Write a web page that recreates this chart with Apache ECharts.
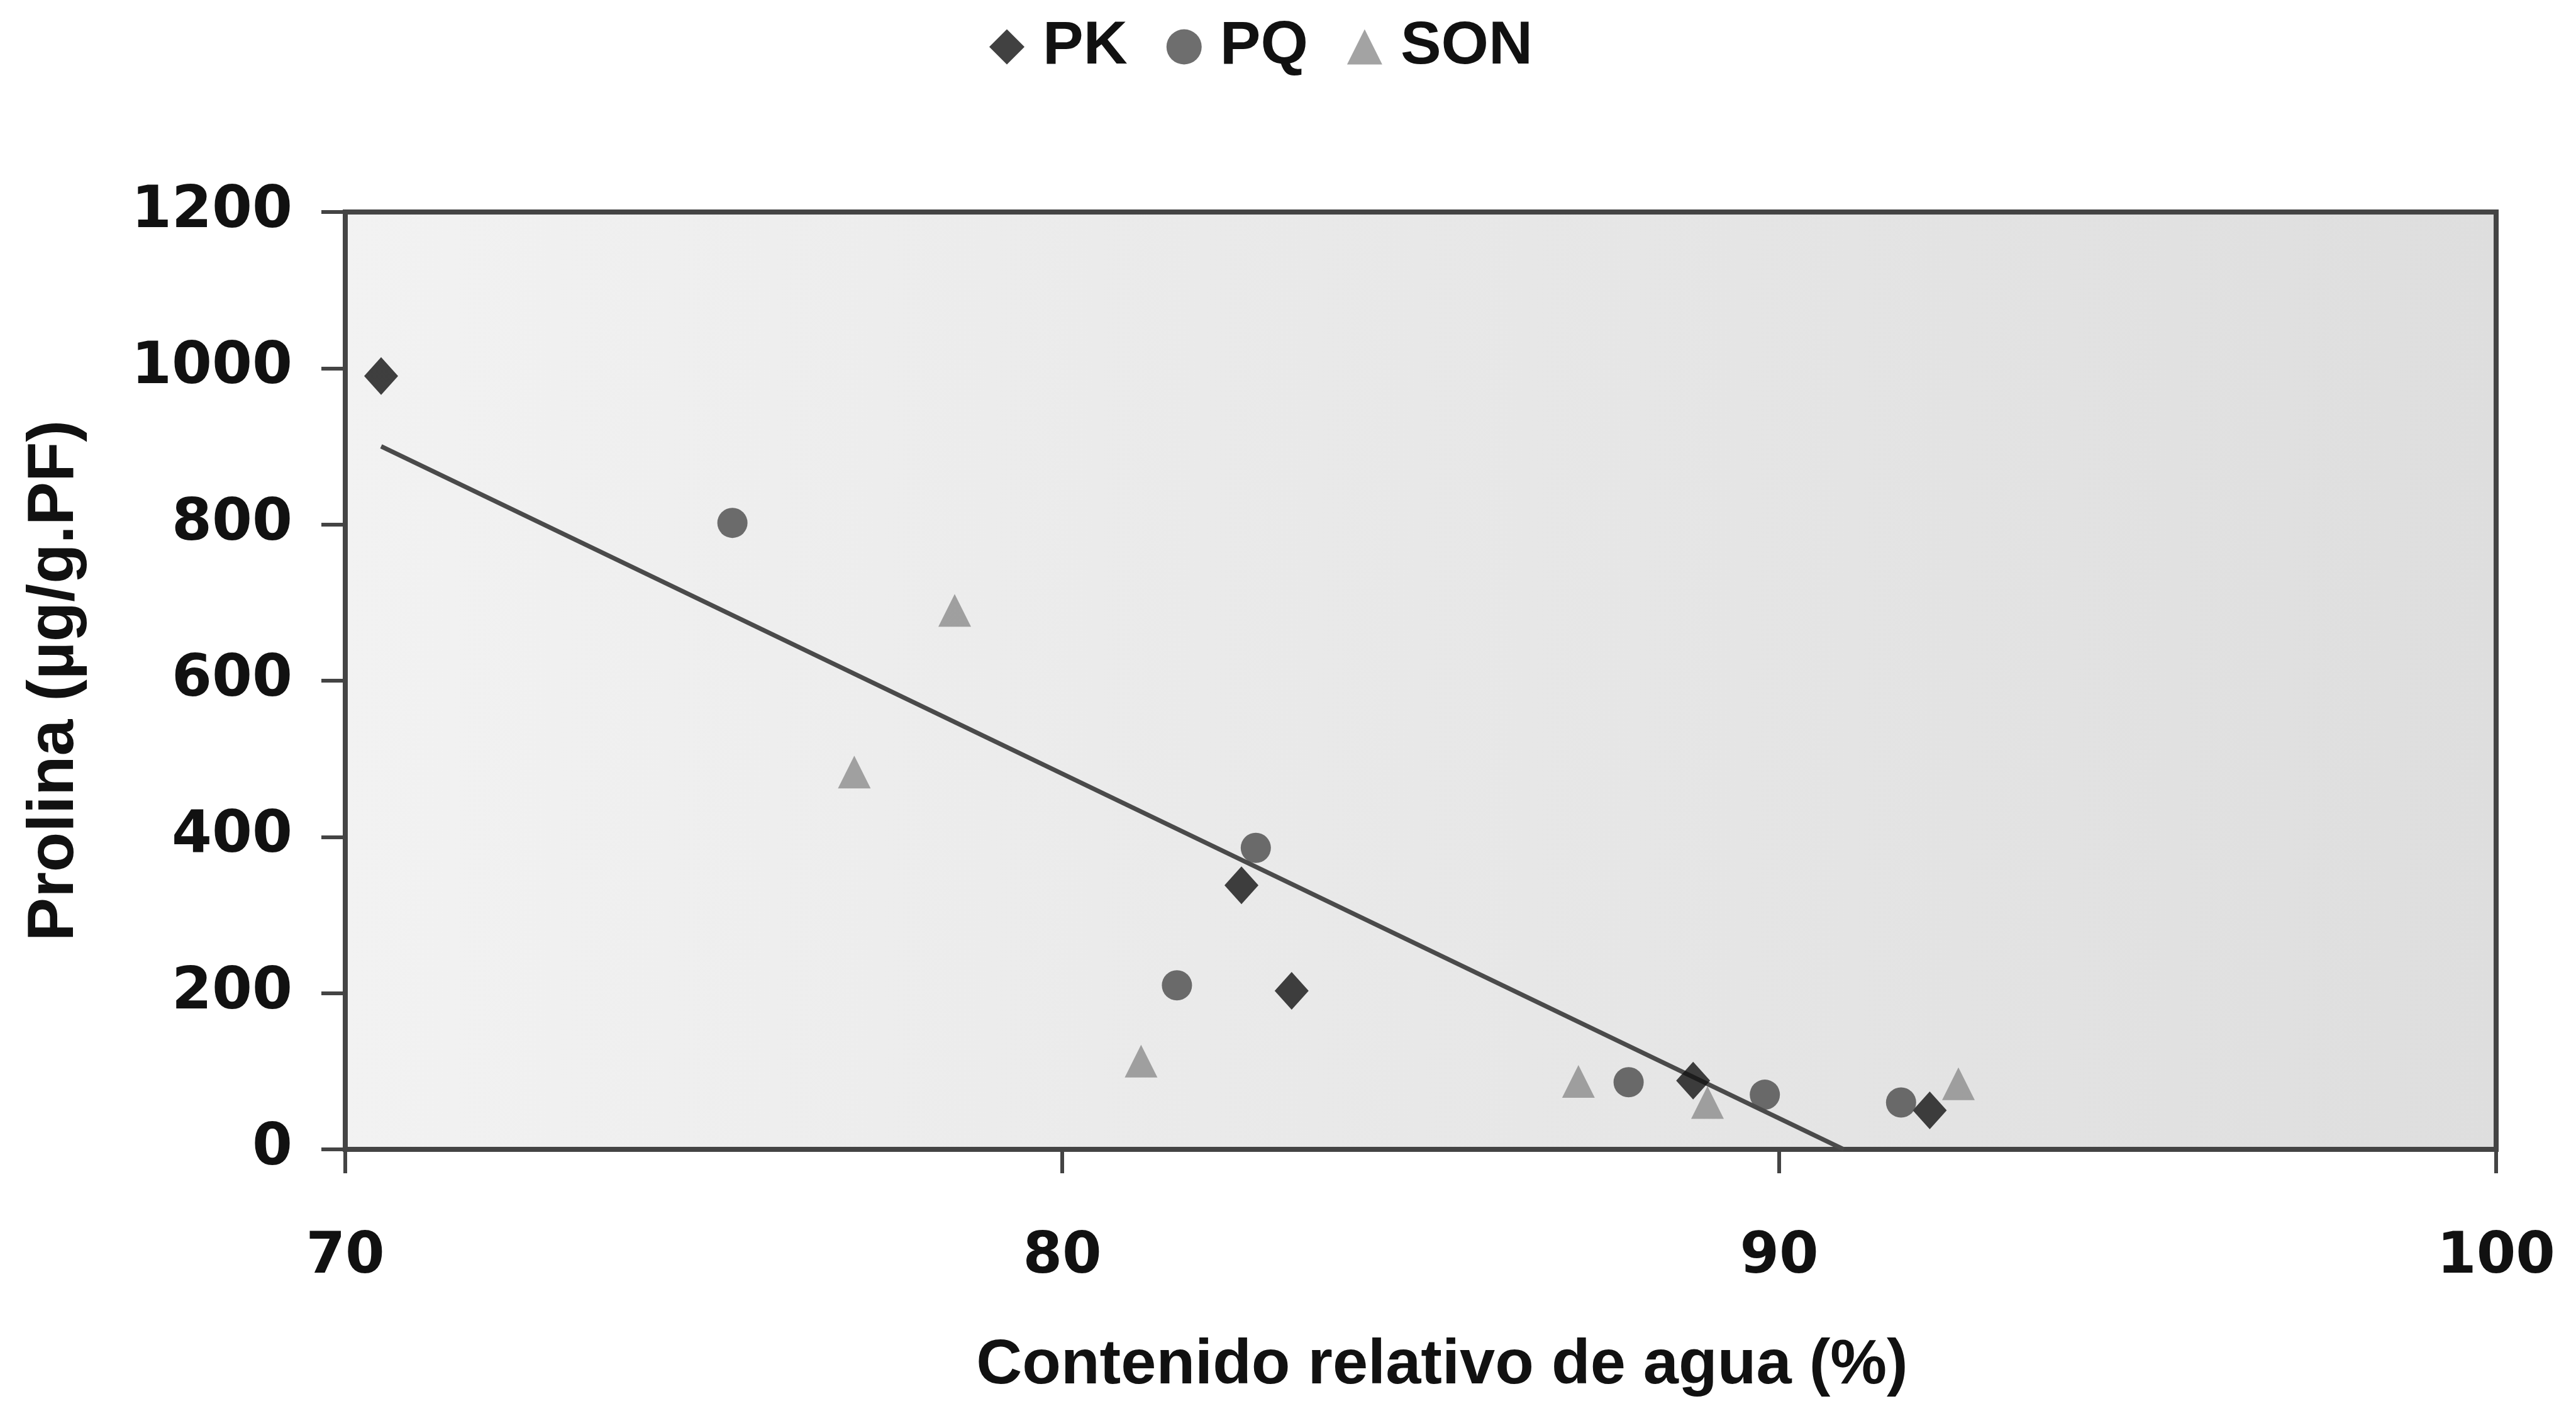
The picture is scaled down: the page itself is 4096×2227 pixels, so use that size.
<!DOCTYPE html>
<html>
<head>
<meta charset="utf-8">
<title>Prolina vs contenido relativo de agua</title>
<script src="https://cdn.jsdelivr.net/npm/echarts@6/dist/echarts.min.js"></script>
<style>
  html, body { margin: 0; padding: 0; background: #ffffff; }
  #chart { width: 4096px; height: 2227px; }
</style>
</head>
<body>
<div id="chart"></div>
<script>
// Contenido relativo de agua (%) and prolina (µg/g PF) for each cultivar
const pkX = [70.5, 82.5, 83.2, 88.8, 92.1];
const pkY = [990, 338, 203, 88, 50];

const pqX = [75.4, 81.6, 82.7, 87.9, 89.8, 91.7];
const pqY = [802, 210, 386, 86, 70, 60];

const sonX = [77.1, 78.5, 81.1, 87.2, 89.0, 92.5];
const sonY = [483, 690, 113, 87, 60, 84];

// Linear trend over all points, drawn down to the x axis
const trendX = [70.5, 90.9];
const trendY = [900, 0];

const seriesNames = ['PK', 'PQ', 'SON'];
const xTicks = [70, 80, 90, 100];
const yTicks = [0, 200, 400, 600, 800, 1000, 1200];

const zip = (xs, ys) => xs.map((x, i) => [x, ys[i]]);

const textFont = "'Liberation Sans', Arial, sans-serif";
const numFont = "'DejaVu Sans', sans-serif";
const axisColor = '#444444';

const chart = echarts.init(document.getElementById('chart'), null, { renderer: 'canvas' });

chart.setOption({
  animation: false,
  backgroundColor: '#ffffff',
  legend: {
    data: [
      { name: 'PK', icon: 'diamond' },
      { name: 'PQ', icon: 'circle' },
      { name: 'SON', icon: 'triangle' }
    ],
    left: 1573,
    top: 26,
    padding: 0,
    itemWidth: 56,
    itemHeight: 56,
    itemGap: 62,
    textStyle: {
      fontFamily: textFont,
      fontWeight: 'bold',
      fontSize: 97,
      color: '#111111',
      padding: [0, 0, 0, 24]
    }
  },
  grid: {
    left: 549,
    right: 127,
    top: 337,
    bottom: 398,
    show: true,
    borderColor: axisColor,
    borderWidth: 8,
    backgroundColor: {
      type: 'linear', x: 0, y: 0, x2: 1, y2: 0,
      colorStops: [
        { offset: 0, color: '#f2f2f2' },
        { offset: 0.5, color: '#e8e8e8' },
        { offset: 1, color: '#dedede' }
      ]
    }
  },
  xAxis: {
    type: 'value',
    min: xTicks[0],
    max: xTicks[xTicks.length - 1],
    interval: 10,
    name: 'Contenido relativo de agua (%)',
    nameLocation: 'middle',
    nameGap: 294,
    nameTextStyle: {
      fontFamily: textFont,
      fontWeight: 'bold',
      fontSize: 101,
      color: '#111111',
      padding: [0, 0, 0, 68]
    },
    axisLine: { show: true, lineStyle: { color: axisColor, width: 8 } },
    axisTick: { show: true, inside: false, length: 38, lineStyle: { color: axisColor, width: 6 } },
    axisLabel: {
      margin: 128,
      fontFamily: numFont,
      fontWeight: 'bold',
      fontSize: 90,
      color: '#111111',
      formatter: (v) => String(v)
    },
    splitLine: { show: false }
  },
  yAxis: {
    type: 'value',
    min: yTicks[0],
    max: yTicks[yTicks.length - 1],
    interval: 200,
    name: 'Prolina (µg/g.PF)',
    nameLocation: 'middle',
    nameRotate: 90,
    nameGap: 410,
    nameTextStyle: {
      fontFamily: textFont,
      fontWeight: 'bold',
      fontSize: 104,
      color: '#111111'
    },
    axisLine: { show: true, lineStyle: { color: axisColor, width: 8 } },
    axisTick: { show: true, inside: false, length: 38, lineStyle: { color: axisColor, width: 6 } },
    axisLabel: {
      margin: 84,
      fontFamily: numFont,
      fontWeight: 'bold',
      fontSize: 92,
      color: '#111111',
      formatter: (v) => String(v)
    },
    splitLine: { show: false }
  },
  series: [
    {
      name: 'Tendencia',
      type: 'line',
      data: zip(trendX, trendY),
      showSymbol: false,
      symbol: 'none',
      silent: true,
      z: 1,
      lineStyle: { color: '#4a4a4a', width: 7 }
    },
    {
      name: seriesNames[0],
      type: 'scatter',
      symbol: 'diamond',
      symbolSize: [54, 60],
      data: zip(pkX, pkY),
      itemStyle: { color: '#111111' },
      z: 3
    },
    {
      name: seriesNames[1],
      type: 'scatter',
      symbol: 'circle',
      symbolSize: 48,
      data: zip(pqX, pqY),
      itemStyle: { color: '#4a4a4a' },
      z: 3
    },
    {
      name: seriesNames[2],
      type: 'scatter',
      symbol: 'triangle',
      symbolSize: 52,
      data: zip(sonX, sonY),
      itemStyle: { color: '#8c8c8c' },
      z: 3
    }
  ]
});
</script>
</body>
</html>
